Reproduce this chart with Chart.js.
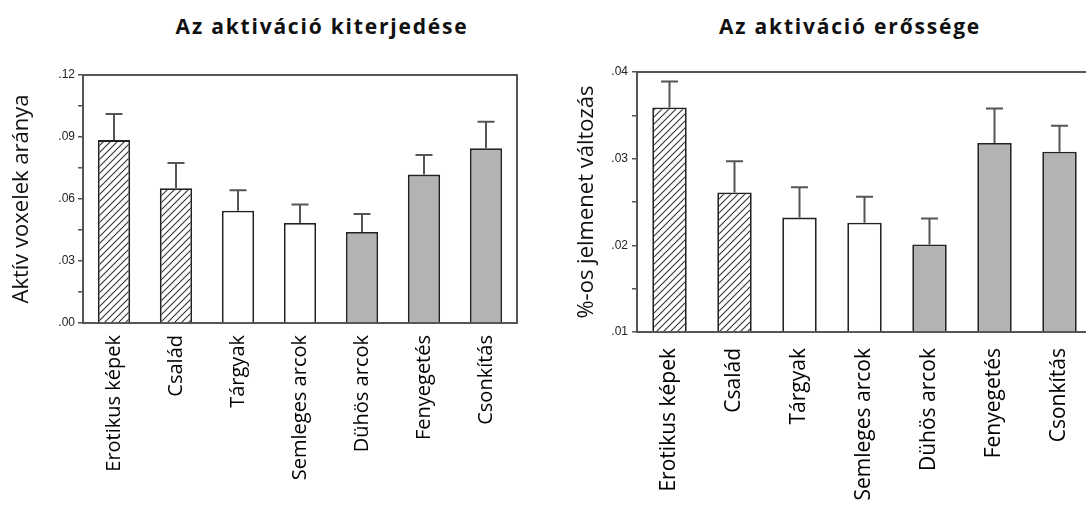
<!DOCTYPE html>
<html>
<head>
<meta charset="utf-8">
<script src="https://cdn.jsdelivr.net/npm/chart.js@4.4.1/dist/chart.umd.min.js"></script>
<style>
html, body { margin: 0; padding: 0; background: #fff; width: 1086px; height: 507px; overflow: hidden; }
.chart-title {
    position: absolute; top: 12px; transform: translateX(-50%);
    font-family: "Open Sans", sans-serif; font-weight: bold; font-size: 21px;
    letter-spacing: 1.8px; color: #111; white-space: nowrap;
}
canvas { position: absolute; top: 0; }
</style>
</head>
<body>
<div class="chart-title" style="left:322px">Az aktiváció kiterjedése</div>
<div class="chart-title" style="left:850px">Az aktiváció erőssége</div>
<canvas id="extentChart" width="540" height="507" style="left:0"></canvas>
<canvas id="strengthChart" width="560" height="507" style="left:540px"></canvas>
<script>
const categories = ['Erotikus képek', 'Család', 'Tárgyak', 'Semleges arcok', 'Dühös arcok', 'Fenyegetés', 'Csonkítás'];
const barKinds = ['hatch', 'hatch', 'white', 'white', 'grey', 'grey', 'grey'];

// left panel: proportion of active voxels
const extentValues = [0.0885, 0.0652, 0.0543, 0.0484, 0.0440, 0.0718, 0.0845];
const extentErrors = [0.0126, 0.0122, 0.0099, 0.0089, 0.0087, 0.0095, 0.0129];
const extentRange = [0, 0.12];
const extentSteps = [0.015, 0.03]; // minor, labelled

// right panel: % signal change
const strengthValues = [0.0359, 0.0261, 0.0232, 0.0226, 0.0201, 0.0318, 0.0308];
const strengthErrors = [0.0030, 0.0036, 0.0035, 0.0030, 0.0030, 0.0040, 0.0030];
const strengthRange = [0.01, 0.04];
const strengthSteps = [0.005, 0.01];

const AXIS_COLOR = '#555';

function makeHatch() {
    const c = document.createElement('canvas');
    c.width = 7; c.height = 7;
    const g = c.getContext('2d');
    g.fillStyle = '#fff';
    g.fillRect(0, 0, 7, 7);
    g.strokeStyle = '#333';
    g.lineWidth = 1.1;
    g.beginPath();
    g.moveTo(-1, 8); g.lineTo(8, -1);
    g.moveTo(-1, 1); g.lineTo(1, -1);
    g.moveTo(6, 8); g.lineTo(8, 6);
    g.stroke();
    return g.createPattern(c, 'repeat');
}

const hatch = makeHatch();
const fills = barKinds.map(k => k === 'hatch' ? hatch : (k === 'grey' ? '#b3b3b3' : '#ffffff'));

function fmtTick(v) {
    return '.' + v.toFixed(2).split('.')[1];
}

// error bars (upper half only) drawn on top of the bars
const errorBarPlugin = {
    id: 'errorBars',
    afterDatasetsDraw(chart, args, opts) {
        const ctx = chart.ctx;
        const meta = chart.getDatasetMeta(0);
        const yScale = chart.scales.y;
        const values = chart.data.datasets[0].data;
        ctx.save();
        ctx.strokeStyle = AXIS_COLOR;
        ctx.lineWidth = 2;
        meta.data.forEach((bar, i) => {
            const yTop = yScale.getPixelForValue(values[i] + opts.errors[i]);
            ctx.beginPath();
            ctx.moveTo(bar.x, bar.y);
            ctx.lineTo(bar.x, yTop);
            ctx.moveTo(bar.x - 8.5, yTop);
            ctx.lineTo(bar.x + 8.5, yTop);
            ctx.stroke();
        });
        ctx.restore();
    }
};

// top (and optionally right) frame lines
const framePlugin = {
    id: 'frame',
    afterDraw(chart, args, opts) {
        const {ctx, chartArea} = chart;
        ctx.save();
        ctx.strokeStyle = AXIS_COLOR;
        ctx.lineWidth = 2;
        ctx.beginPath();
        ctx.moveTo(chartArea.left, chartArea.top);
        ctx.lineTo(chartArea.right, chartArea.top);
        if (opts.right) {
            ctx.lineTo(chartArea.right, chartArea.bottom);
        }
        ctx.stroke();
        ctx.restore();
    }
};

function makeChart(id, cfg) {
    const [minor, major] = cfg.steps;
    return new Chart(document.getElementById(id), {
        type: 'bar',
        data: {
            labels: categories,
            datasets: [{
                data: cfg.values,
                base: cfg.range[0],
                backgroundColor: fills,
                borderColor: '#222',
                borderWidth: 1.8,
                barPercentage: cfg.barPct,
                categoryPercentage: 1
            }]
        },
        options: {
            responsive: false,
            animation: false,
            layout: { padding: cfg.padding },
            plugins: {
                legend: { display: false },
                tooltip: { enabled: false },
                errorBars: { errors: cfg.errors },
                frame: { right: cfg.frameRight }
            },
            scales: {
                x: {
                    afterFit: s => { s.height = cfg.xHeight; },
                    grid: { display: false },
                    border: { display: true, color: AXIS_COLOR, width: 2 },
                    ticks: {
                        autoSkip: false,
                        minRotation: 90,
                        maxRotation: 90,
                        padding: cfg.labelPad,
                        color: '#000',
                        font: { family: '"Open Sans", sans-serif', size: cfg.labelSize }
                    }
                },
                y: {
                    min: cfg.range[0],
                    max: cfg.range[1],
                    afterFit: s => { s.width = cfg.yWidth; },
                    grid: { drawOnChartArea: false, color: AXIS_COLOR, lineWidth: 1.5, tickLength: 5 },
                    border: { display: true, color: AXIS_COLOR, width: 2 },
                    ticks: {
                        stepSize: minor,
                        padding: cfg.tickPad,
                        color: '#222',
                        font: { family: '"Liberation Sans", Arial, sans-serif', size: 12 },
                        callback: v => Math.abs(v / major - Math.round(v / major)) < 1e-6 ? fmtTick(v) : ''
                    },
                    title: {
                        display: true,
                        text: cfg.yTitle,
                        color: '#111',
                        padding: { top: cfg.titlePad, bottom: 0 },
                        font: { family: '"Open Sans", sans-serif', size: 22 }
                    }
                }
            }
        },
        plugins: [errorBarPlugin, framePlugin]
    });
}

makeChart('extentChart', {
    values: extentValues,
    errors: extentErrors,
    range: extentRange,
    steps: extentSteps,
    yTitle: 'Aktív voxelek aránya',
    padding: { left: 0, top: 75, right: 23, bottom: 0 },
    yWidth: 83,
    xHeight: 184,
    barPct: 0.52,
    labelSize: 20,
    labelPad: 4,
    tickPad: 3,
    titlePad: 9,
    frameRight: true
});

makeChart('strengthChart', {
    values: strengthValues,
    errors: strengthErrors,
    range: strengthRange,
    steps: strengthSteps,
    yTitle: '%-os jelmenet változás',
    padding: { left: 0, top: 72, right: 8, bottom: 0 },
    yWidth: 97,
    xHeight: 175,
    barPct: 0.53,
    labelSize: 21,
    labelPad: 8,
    tickPad: 4,
    titlePad: 34,
    frameRight: false
});
</script>
</body>
</html>
